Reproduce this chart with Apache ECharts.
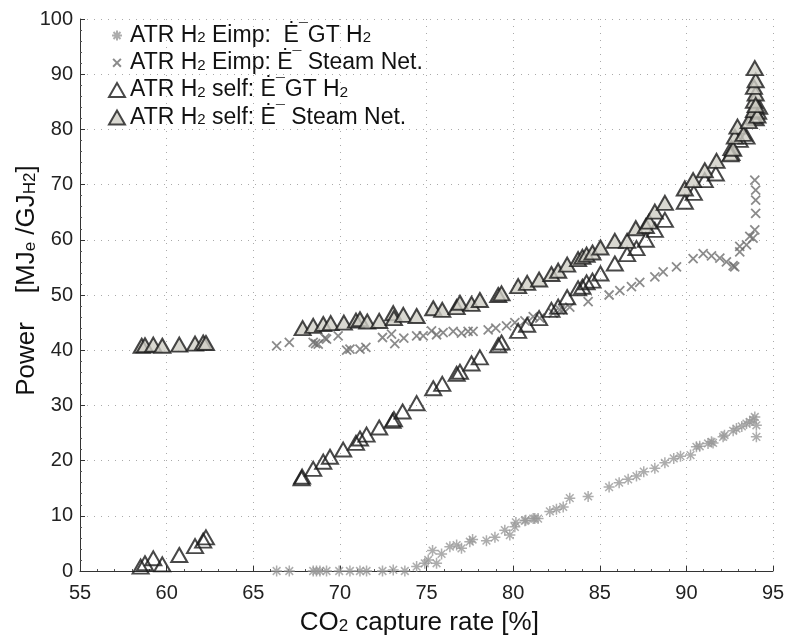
<!DOCTYPE html>
<html><head><meta charset="utf-8">
<script src="https://cdn.jsdelivr.net/npm/echarts@6/dist/echarts.min.js"></script>
<style>html,body{margin:0;padding:0;background:#fff}#c{width:787px;height:637px}</style>
</head><body><div id="c"></div>
<script>
// ---- data ----
var xTicks = [55, 60, 65, 70, 75, 80, 85, 90, 95];
var yTicks = [0, 10, 20, 30, 40, 50, 60, 70, 80, 90, 100];
var seriesNames = [
  'ATR H{s|2} Eimp:  Ė{m|¯}GT H{s|2}',
  'ATR H{s|2} Eimp: Ė{m|¯} Steam Net.',
  'ATR H{s|2} self: Ė{m|¯}GT H{s|2}',
  'ATR H{s|2} self: Ė{m|¯} Steam Net.'
];
var eimpGT = [
  [66.35,0],[67.08,0],[68.46,0],[68.65,0],[68.85,0],[69.23,0],[69.96,0],[70.58,0],[71.16,0],[71.54,0],
  [72.46,0],[73.08,0.2],[73.75,0],[74.43,0.8],[74.9,1.4],[75.1,2.0],[75.35,3.7],[75.58,1.4],[75.87,3.1],
  [76.35,4.4],[76.74,4.7],[77.02,4.1],[77.5,5.3],[77.66,5.7],[78.46,5.5],[78.95,6.1],[79.52,7.4],[79.81,6.5],
  [80.1,8.0],[80.16,8.8],[80.68,9.1],[80.73,9.2],[81.16,9.5],[81.25,9.5],[81.44,9.5],[82.12,10.8],[82.5,11.2],
  [82.89,11.6],[83.27,13.2],[84.33,13.5],[85.54,15.2],[86.12,16.0],[86.64,16.6],[87.12,17.2],[87.54,18.0],
  [88.18,18.6],[88.76,19.6],[89.27,20.4],[89.66,20.8],[90.24,21.0],[90.58,22.5],[90.77,22.6],[91.25,23.1],
  [91.45,23.4],[91.54,23.2],[92.12,24.3],[92.2,24.6],[92.7,25.4],[92.89,25.8],[93.2,26.2],[93.47,26.7],
  [93.66,27.0],[93.85,27.4],[93.95,27.9],[94.04,26.4],[94.04,24.3]
];
var eimpSteam = [
  [66.35,40.8],[67.08,41.4],[68.46,41.4],[68.6,41.2],[68.75,41.1],[69.14,42.2],[69.23,42.0],[69.9,42.6],
  [70.39,40.0],[70.58,40.2],[71.16,40.2],[71.5,40.5],[72.46,42.3],[72.98,42.9],[73.17,41.2],[73.69,42.2],
  [74.43,42.6],[74.81,42.6],[75.29,43.5],[75.58,42.8],[75.96,43.2],[76.54,43.4],[77.02,43.1],[77.4,43.4],
  [77.69,43.4],[78.56,43.7],[79.0,44.0],[79.62,44.4],[80.1,45.0],[80.68,45.3],[81.16,46.1],[81.54,45.8],
  [82.31,46.7],[82.7,47.3],[82.89,47.3],[83.27,47.8],[84.33,48.8],[85.54,50.0],[86.16,50.8],[86.83,51.5],
  [87.31,52.3],[88.18,53.3],[88.66,54.2],[89.43,55.1],[90.39,56.6],[90.97,57.5],[91.45,57.1],[91.93,56.7],
  [92.31,56.0],[92.7,55.3],[92.79,55.1],[93.08,57.8],[93.08,58.8],[93.47,59.1],[93.66,60.6],[93.85,60.3],
  [93.95,61.8],[94.0,64.8],[94.0,67.2],[94.0,69.0],[93.95,70.8]
];
var selfGT = [
  [58.5,0.8],[58.75,1.4],[59.23,2.3],[59.75,1.2],[60.73,2.9],[61.64,4.5],[62.11,5.5],[62.27,6.1],
  [67.79,16.8],[67.82,17.1],[68.46,18.5],[69.04,19.8],[69.43,20.7],[70.19,22.0],[70.93,23.2],[71.16,24.0],
  [71.54,24.7],[72.27,26.0],[73.04,27.2],[73.12,27.5],[73.62,28.9],[74.43,30.4],[75.39,33.1],[75.91,33.9],
  [76.74,35.7],[76.93,36.1],[77.6,37.6],[78.08,38.7],[79.14,40.9],[79.33,41.4],[80.29,43.5],[80.81,44.6],
  [81.5,45.8],[82.21,47.3],[82.6,47.9],[83.12,49.6],[83.75,51.2],[84.0,51.5],[84.24,52.3],[84.58,52.6],
  [85.04,53.9],[85.87,55.7],[86.58,57.4],[87.12,58.5],[87.66,60.0],[88.18,61.8],[88.76,63.6],[89.91,66.9],
  [90.43,68.5],[91.06,70.8],[91.7,72.0],[92.6,75.7],[92.6,76.6],[93.08,78.1],[93.47,78.7],[93.85,82.3],
  [94.0,82.0],[94.14,83.2],[94.2,84.1]
];
var selfSteam = [
  [58.56,40.8],[58.75,40.9],[59.23,41.0],[59.75,40.8],[60.73,41.0],[61.64,41.2],[62.11,41.4],[62.27,41.3],
  [67.85,44.0],[68.46,44.4],[69.04,44.75],[69.47,44.9],[70.23,45.0],[70.93,45.35],[71.16,45.6],[71.58,45.2],
  [72.27,45.3],[73.08,46.7],[73.12,45.8],[73.66,46.4],[74.43,46.2],[75.39,47.6],[75.91,47.3],[76.74,47.8],
  [76.93,48.6],[77.6,48.4],[78.08,49.1],[79.14,50.0],[79.33,50.3],[80.29,51.6],[80.81,52.2],[81.5,52.8],
  [82.21,53.8],[82.6,54.4],[83.12,55.5],[83.75,56.5],[84.0,56.9],[84.24,57.3],[84.58,57.7],[85.04,58.6],
  [85.87,59.8],[86.58,59.8],[87.08,62.1],[87.66,62.5],[87.85,63.3],[88.18,65.1],[88.76,66.7],[89.91,69.3],
  [90.39,70.8],[91.06,72.6],[91.74,74.3],[92.55,75.5],[92.7,76.5],[92.8,78.7],[92.95,80.5],[93.3,79.2],
  [93.6,81.5],[93.9,83.5],[93.9,85.2],[94.0,86.5],[93.9,87.7],[94.0,88.9],[93.95,91.1],[94.1,82.5],[94.0,84.4]
];

// ---- chart ----
var FONT = 'Liberation Sans, Arial, sans-serif';
var chart = echarts.init(document.getElementById('c'));
var asterisk = 'path://M0,5L10,5M5,0L5,10M1.5,1.5L8.5,8.5M1.5,8.5L8.5,1.5';
var cross = 'path://M0,0L10,10M0,10L10,0';
var asteriskIcon = 'path://M-2,-2M12,12M0,5L10,5M5,0L5,10M1.5,1.5L8.5,8.5M1.5,8.5L8.5,1.5';
var crossIcon = 'path://M-4,-4M14,14M0,0L10,10M0,10L10,0';
var legendRich = {
  s: { fontSize: 15, fontFamily: FONT, color: '#111', padding: [5.5, 0, 0, 0] },
  m: { fontSize: 16, fontFamily: FONT, color: '#111', padding: [0, 0, 9, 0] }
};
var titleRich = { s: { fontSize: 17, fontFamily: FONT, color: '#111', padding: [6.3, 0, 0, 0] } };
chart.setOption({
  animation: false,
  backgroundColor: '#fff',
  grid: { left: 80, right: 14, top: 19, bottom: 66, containLabel: false, outerBoundsMode: 'none' },
  legend: {
    left: 108, top: 23, orient: 'vertical', itemGap: 3.3, itemWidth: 16, itemHeight: 14,
    padding: 0,
    textStyle: { fontFamily: FONT, fontSize: 23, lineHeight: 23, color: '#111', rich: legendRich },
    data: [
      { name: seriesNames[0], icon: asteriskIcon }, { name: seriesNames[1], icon: crossIcon },
      { name: seriesNames[2] }, { name: seriesNames[3] }
    ]
  },
  xAxis: {
    type: 'value', min: 55, max: 95, interval: 5,
    name: 'CO{s|2} capture rate [%]\u00a0\u00a0', nameLocation: 'middle', nameGap: 39, nameMoveOverlap: false,
    nameTextStyle: { fontFamily: FONT, fontSize: 26, color: '#111', verticalAlign: 'top', rich: titleRich },
    axisLine: { show: true, lineStyle: { color: '#333', width: 1 } },
    axisTick: { show: true, inside: true, length: 5, lineStyle: { color: '#333' } },
    minorTick: { show: true, splitNumber: 5, length: 2, lineStyle: { color: '#555' } },
    axisLabel: { fontFamily: FONT, fontSize: 20, color: '#222', margin: 12,
      formatter: function (v) { return xTicks.indexOf(v) >= 0 ? String(v) : ''; } },
    splitLine: { show: true, lineStyle: { color: '#aaa', type: [1, 6], width: 1 } }
  },
  yAxis: {
    type: 'value', min: 0, max: 100, interval: 10,
    name: '\u00a0\u00a0\u00a0\u00a0Power\u00a0\u00a0\u00a0\u00a0[MJ{s|e} /GJ{s|H2}]', nameLocation: 'middle',
    nameGap: 40, nameRotate: 90, nameMoveOverlap: false,
    nameTextStyle: { fontFamily: FONT, fontSize: 26, color: '#111', rich: titleRich },
    axisLine: { show: true, lineStyle: { color: '#333', width: 1 } },
    axisTick: { show: true, inside: true, length: 5, lineStyle: { color: '#333' } },
    minorTick: { show: true, splitNumber: 5, length: 2, lineStyle: { color: '#555' } },
    axisLabel: { fontFamily: FONT, fontSize: 20, color: '#222', margin: 7,
      formatter: function (v) { return yTicks.indexOf(v) >= 0 ? String(v) : ''; } },
    splitLine: { show: true, lineStyle: { color: '#aaa', type: [1, 6], width: 1 } }
  },
  series: [
    { name: seriesNames[0], type: 'scatter', data: eimpGT, symbol: asterisk, symbolSize: 11,
      itemStyle: { color: 'rgba(0,0,0,0)', borderColor: '#999999', borderWidth: 1.5 }, z: 2 },
    { name: seriesNames[1], type: 'scatter', data: eimpSteam, symbol: cross, symbolSize: 9,
      itemStyle: { color: 'rgba(0,0,0,0)', borderColor: '#6e6e6e', borderWidth: 1.8 }, z: 3 },
    { name: seriesNames[2], type: 'scatter', data: selfGT, symbol: 'triangle', symbolSize: [16, 14],
      itemStyle: { color: 'rgba(255,255,255,0)', borderColor: '#1a1a1a', borderWidth: 2 }, z: 4 },
    { name: seriesNames[3], type: 'scatter', data: selfSteam, symbol: 'triangle', symbolSize: [16, 14],
      itemStyle: { color: '#cfcec6', borderColor: '#1a1a1a', borderWidth: 2 }, z: 5 }
  ]
});
</script></body></html>
